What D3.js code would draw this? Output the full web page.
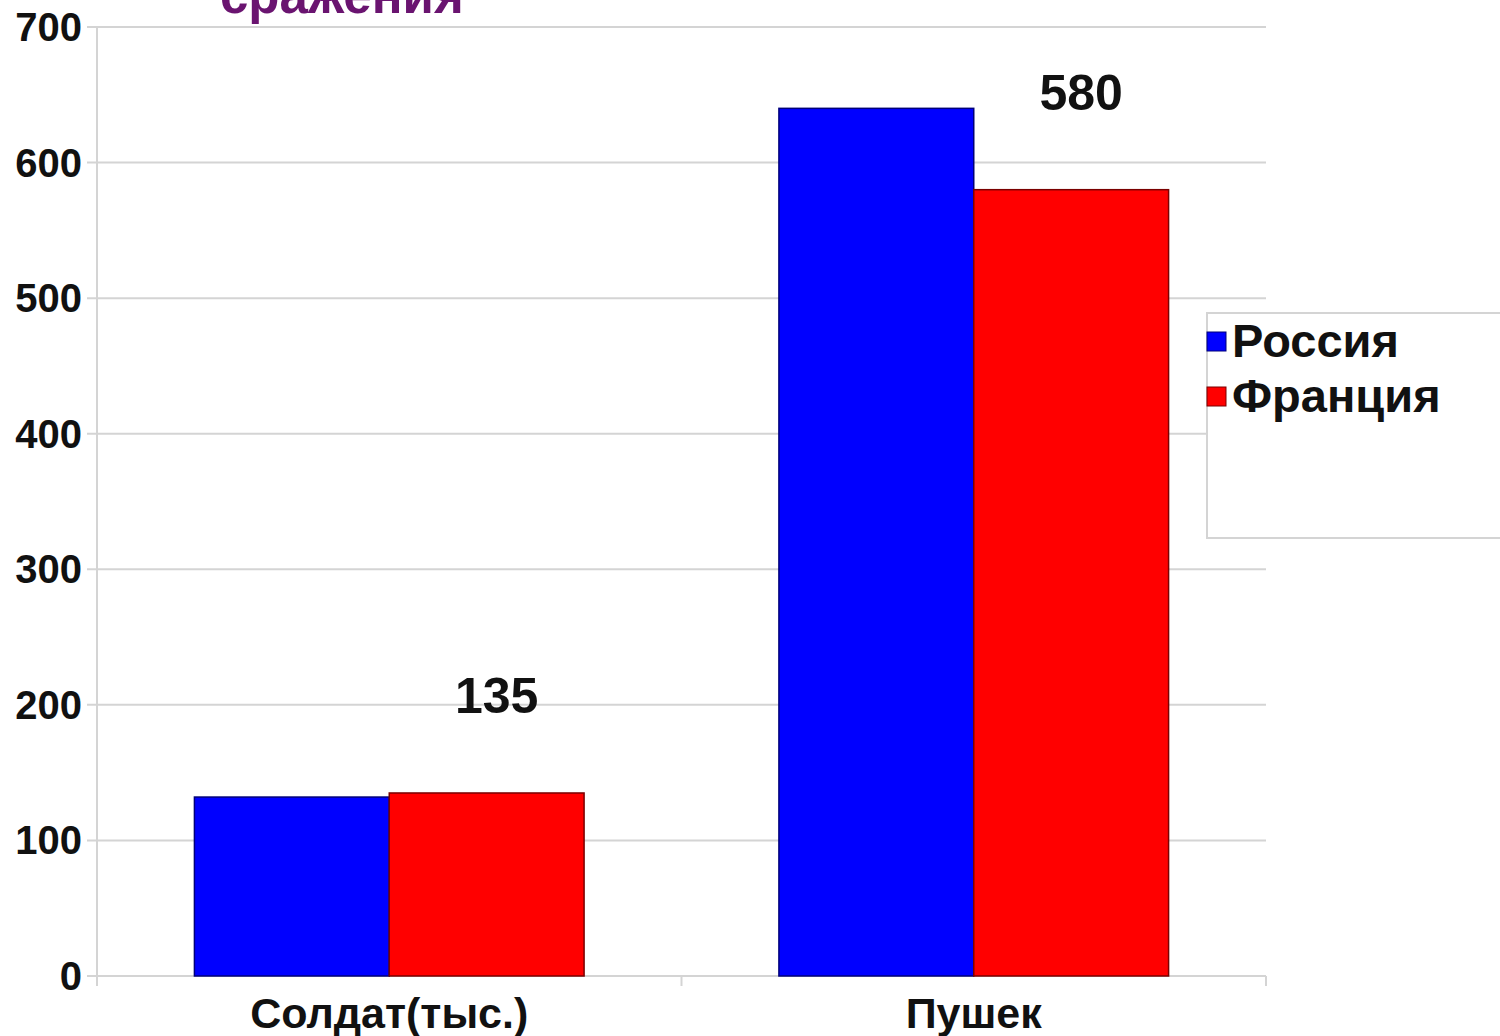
<!DOCTYPE html>
<html>
<head>
<meta charset="utf-8">
<script src="https://d3js.org/d3.v7.min.js"></script>
<style>
  body { margin: 0; background: #fff; }
  svg text { font-family: "Liberation Sans", Arial, sans-serif; font-weight: bold; }
</style>
</head>
<body>
<svg id="chart" width="1500" height="1036"></svg>
<script>
  // data
  var categories = ["Солдат(тыс.)", "Пушек"];
  var series = ["Россия", "Франция"];
  var russia = [132, 640];
  var france = [135, 580];
  var yTicks = [0, 100, 200, 300, 400, 500, 600, 700];
  var labelled = "Франция"; // only this series has value labels

  var colors = { "Россия": "#0000ff", "Франция": "#ff0000" };
  var edges = { "Россия": "#00007a", "Франция": "#7a0000" };

  var svg = d3.select("#chart");
  var pLeft = 97, pRight = 1266, pTop = 27, pBottom = 976;

  var x = d3.scaleBand().domain(categories).range([pLeft, pRight])
      .paddingInner(0).paddingOuter(0);
  var xs = d3.scaleBand().domain(series).range([0, x.bandwidth()])
      .paddingInner(0).paddingOuter(0.5);
  var y = d3.scaleLinear().domain([0, 700]).range([pBottom, pTop]);

  // title fragment cut off at the top
  svg.append("text").attr("x", 220).attr("y", 13)
      .attr("font-size", 51).attr("fill", "#6a1470").text("сражения");

  // gridlines
  svg.append("g").selectAll("line").data(yTicks).enter().append("line")
      .attr("x1", pLeft - 10).attr("x2", pRight)
      .attr("y1", function(d){ return y(d); }).attr("y2", function(d){ return y(d); })
      .attr("stroke", "#d4d4d4").attr("stroke-width", 2);

  // y axis
  svg.append("line").attr("x1", pLeft).attr("x2", pLeft).attr("y1", pTop).attr("y2", pBottom)
      .attr("stroke", "#d4d4d4").attr("stroke-width", 2);
  svg.append("g").selectAll("text").data(yTicks).enter().append("text")
      .attr("x", 82).attr("y", function(d){ return y(d) + 14; })
      .attr("text-anchor", "end").attr("font-size", 40).attr("fill", "#111")
      .text(function(d){ return d; });

  // x ticks
  var xEdges = categories.map(function(c){ return x(c); }).concat([pRight]);
  svg.append("g").selectAll("line").data(xEdges).enter().append("line")
      .attr("x1", function(d){ return d; }).attr("x2", function(d){ return d; })
      .attr("y1", pBottom).attr("y2", pBottom + 10)
      .attr("stroke", "#d4d4d4").attr("stroke-width", 2);

  // bars
  var rows = [];
  categories.forEach(function(c, i){
    rows.push({ cat: c, s: "Россия", v: russia[i] });
    rows.push({ cat: c, s: "Франция", v: france[i] });
  });
  svg.append("g").selectAll("rect").data(rows).enter().append("rect")
      .attr("x", function(d){ return x(d.cat) + xs(d.s); })
      .attr("y", function(d){ return y(d.v); })
      .attr("width", xs.bandwidth())
      .attr("height", function(d){ return pBottom - y(d.v); })
      .attr("fill", function(d){ return colors[d.s]; })
      .attr("stroke", function(d){ return edges[d.s]; })
      .attr("stroke-width", 1.5);

  // value labels
  svg.append("g").selectAll("text").data(rows.filter(function(d){ return d.s == labelled; }))
      .enter().append("text")
      .attr("x", function(d){ return x(d.cat) + xs(d.s) + xs.bandwidth() / 2 + 10; })
      .attr("y", function(d){ return y(d.v) - 80; })
      .attr("text-anchor", "middle").attr("font-size", 50).attr("fill", "#111")
      .text(function(d){ return d.v; });

  // category labels
  svg.append("g").selectAll("text").data(categories).enter().append("text")
      .attr("x", function(d){ return x(d) + x.bandwidth() / 2; })
      .attr("y", 1028)
      .attr("text-anchor", "middle").attr("font-size", 43).attr("fill", "#111")
      .text(function(d){ return d; });

  // legend
  var lg = svg.append("g");
  lg.append("rect").attr("x", 1207).attr("y", 313).attr("width", 320).attr("height", 225)
      .attr("fill", "#fff").attr("stroke", "#d4d4d4").attr("stroke-width", 2);
  var items = lg.selectAll("g").data(series).enter().append("g")
      .attr("transform", function(d, i){ return "translate(1207," + (332 + i * 55) + ")"; });
  items.append("rect").attr("width", 19).attr("height", 19)
      .attr("fill", function(d){ return colors[d]; })
      .attr("stroke", function(d){ return edges[d]; }).attr("stroke-width", 1);
  items.append("text").attr("x", 25).attr("y", 25).attr("font-size", 47).attr("fill", "#111")
      .text(function(d){ return d; });
</script>
</body>
</html>
